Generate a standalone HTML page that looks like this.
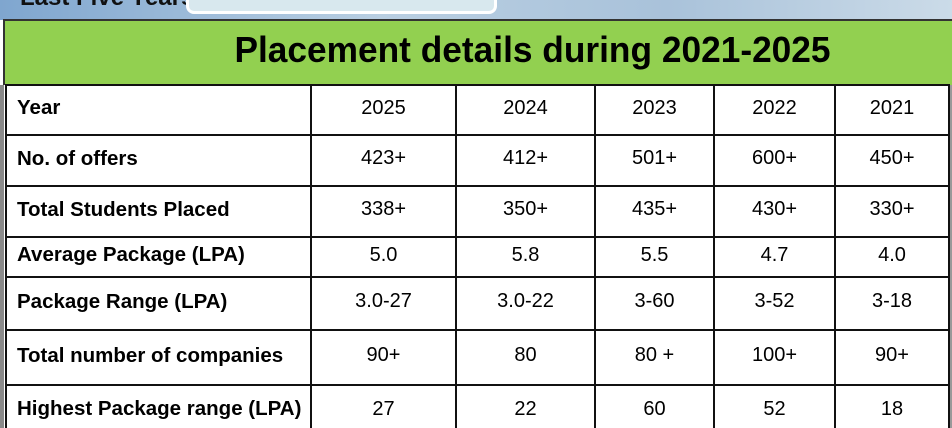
<!DOCTYPE html><html><head><style>
html,body{margin:0;width:952px;height:428px;overflow:hidden}
body{background:#fff;font-family:"Liberation Sans",Arial,sans-serif;position:relative}
.top{position:absolute;left:0;top:0;width:952px;height:20px;background:linear-gradient(90deg,#7fa6cf,#b9cfe2 40%,#a9c2da 70%,#cbdbe8)}
.top .t{position:absolute;left:20px;top:-16px;font-weight:bold;font-size:24px;color:#111}
.top .box{position:absolute;left:186px;top:-10px;width:305px;height:18px;border:3px solid #fff;border-radius:8px;background:#d8e8ee}
.green{position:absolute;left:3px;top:19px;width:949px;height:66px;background:#92d050;border-top:2px solid #333;border-left:2px solid #333;box-sizing:border-box}
.green div{position:absolute;left:54px;width:100%;top:8px;text-align:center;font-weight:bold;font-size:36px;color:#000;transform:scaleX(0.98)}
.side{position:absolute;left:0;top:85px;width:4px;height:343px;background:#8a8a8a}
.right{position:absolute;left:948px;top:85px;width:4px;height:343px;background:#999}
table{position:absolute;left:5px;top:84px;border-collapse:collapse;table-layout:fixed}
td{border:2px solid #111;font-size:20px;color:#000;text-align:center;padding:0 0 4px 0}
td:first-child{text-align:left;font-weight:bold;padding-left:10px;font-size:20.5px}
</style></head><body>
<div class="top"><div class="t">Last Five Years</div><div class="box"></div></div>
<div class="green"><div>Placement details during 2021-2025</div></div>
<div class="side"></div><div class="right"></div>
<table>
<colgroup><col style="width:305px"><col style="width:145px"><col style="width:139px"><col style="width:119px"><col style="width:121px"><col style="width:114px"></colgroup>
<tr style="height:50px"><td>Year</td><td>2025</td><td>2024</td><td>2023</td><td>2022</td><td>2021</td></tr>
<tr style="height:51px"><td>No. of offers</td><td>423+</td><td>412+</td><td>501+</td><td>600+</td><td>450+</td></tr>
<tr style="height:51px"><td>Total Students Placed</td><td>338+</td><td>350+</td><td>435+</td><td>430+</td><td>330+</td></tr>
<tr style="height:40px"><td>Average Package (LPA)</td><td>5.0</td><td>5.8</td><td>5.5</td><td>4.7</td><td>4.0</td></tr>
<tr style="height:53px"><td>Package Range (LPA)</td><td>3.0-27</td><td>3.0-22</td><td>3-60</td><td>3-52</td><td>3-18</td></tr>
<tr style="height:55px"><td>Total number of companies</td><td>90+</td><td>80</td><td>80 +</td><td>100+</td><td>90+</td></tr>
<tr style="height:52px"><td>Highest Package range (LPA)</td><td>27</td><td>22</td><td>60</td><td>52</td><td>18</td></tr>
</table>
</body></html>
